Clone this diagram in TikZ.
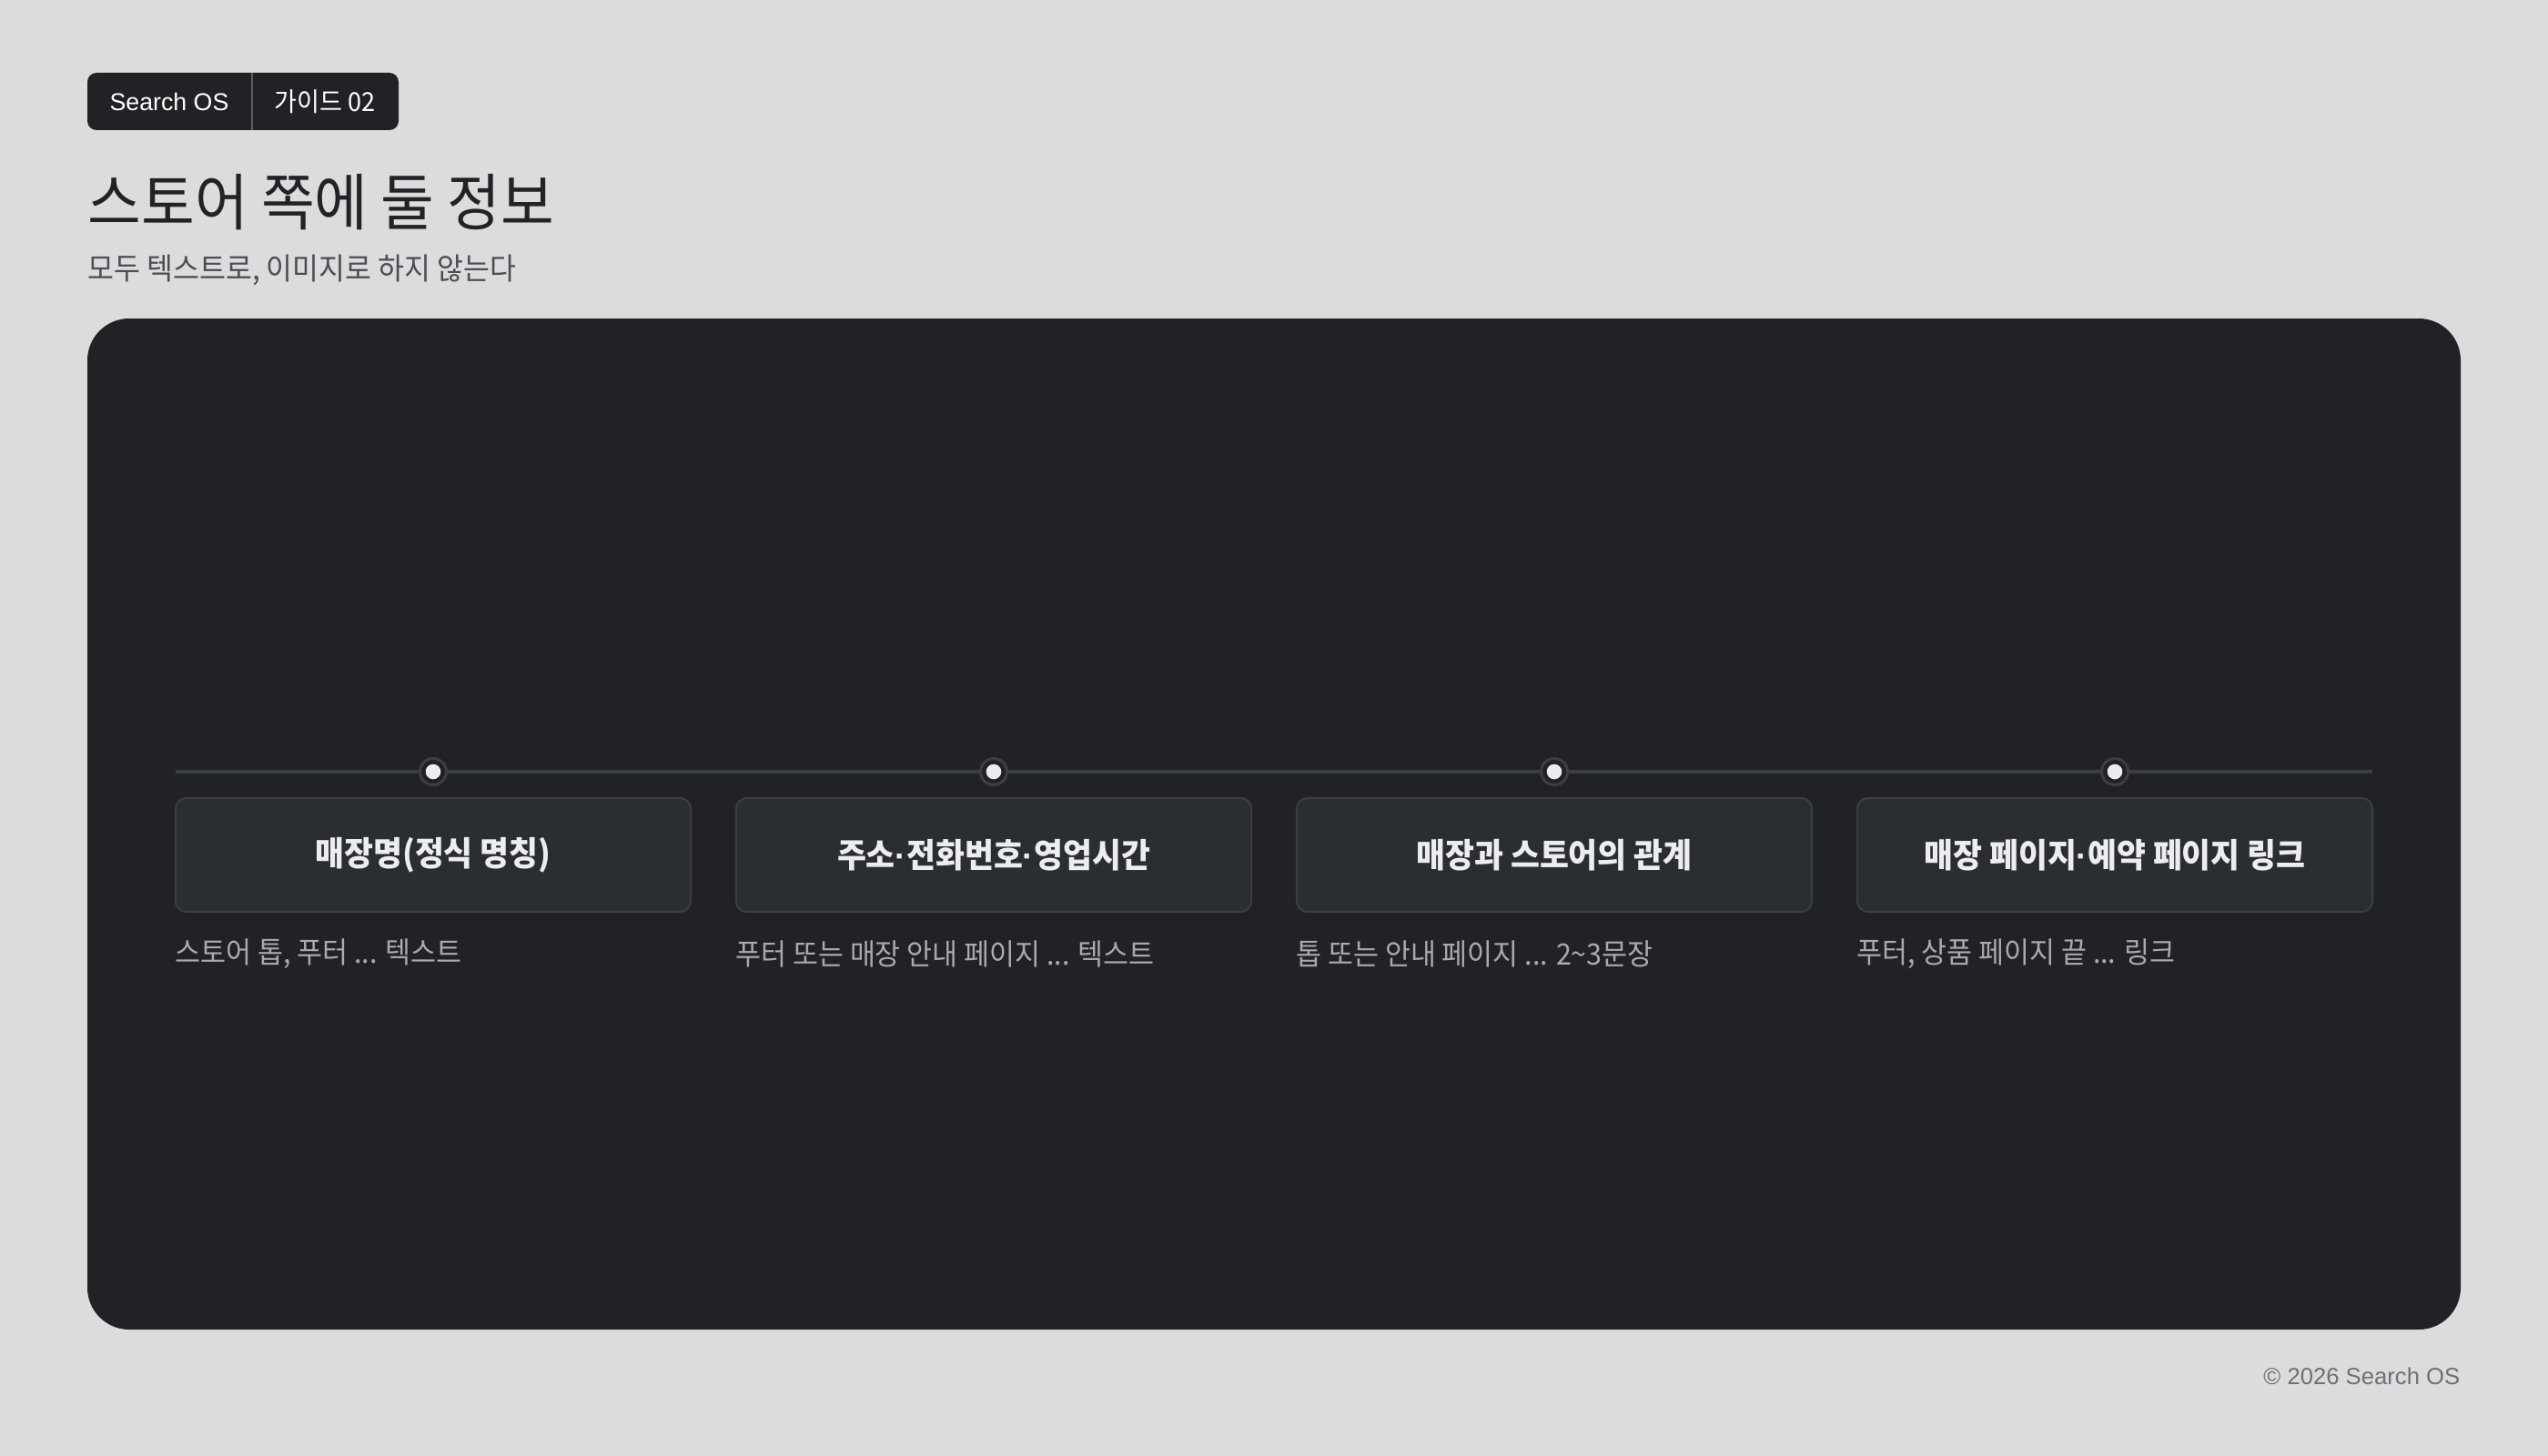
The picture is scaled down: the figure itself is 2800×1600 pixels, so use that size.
\documentclass[tikz,border=0pt]{standalone}
\usepackage{fontspec}
\setmainfont{Liberation Sans}
\newfontfamily\kr[FakeStretch=0.94]{Noto Sans CJK KR}
\newcommand\mdot{{\rmfamily ·}}
\usetikzlibrary{positioning}

\definecolor{pagebg}{HTML}{DCDCDC}
\definecolor{panelbg}{HTML}{212226}
\definecolor{cardbg}{HTML}{2A2D32}
\definecolor{cardline}{HTML}{3A3D43}
\definecolor{railgray}{HTML}{3B3F44}
\definecolor{dotwhite}{HTML}{ECECEC}
\definecolor{cardtext}{HTML}{EDEDEF}
\definecolor{notegray}{HTML}{A7AAB0}
\definecolor{titleink}{HTML}{222327}
\definecolor{subink}{HTML}{4A4E55}
\definecolor{footink}{HTML}{6C7078}
\definecolor{badgeline}{HTML}{5A5D63}

\begin{document}
\begin{tikzpicture}[x=0.01cm, y=-0.01cm,
    cardbox/.style={draw=cardline, line width=0.6pt, fill=cardbg, rounded corners=0.12cm,
        minimum width=5.66cm, minimum height=1.25cm, inner sep=0pt, text=cardtext,
        font=\kr\bfseries\fontsize{10.5}{12}\selectfont},
    cardnote/.style={anchor=west, inner sep=0pt, text=notegray, font=\kr\fontsize{9.2}{11}\selectfont},
    stepdot/.style={circle, fill=panelbg, draw=railgray, line width=0.85pt, minimum size=0.29cm, inner sep=0pt},
    badgetext/.style={inner sep=0pt, text=white},
    rail/.style={draw=railgray, line width=1.1pt}
]
    \useasboundingbox (0,0) rectangle (2800,1600);
    \fill[pagebg] (0,0) rectangle (2800,1600);

    % badge and heading
    \fill[panelbg, rounded corners=0.1cm] (96,80) rectangle (438,143);
    \draw[badgeline, line width=0.6pt] (277,80) -- (277,143);
    \node[badgetext, font=\fontsize{7.6}{9}\selectfont] (brand) at (186,112) {Search OS};
    \node[badgetext, font=\kr\fontsize{8.2}{10}\selectfont] (guide) at (357,112) {가이드 02};
    \node[anchor=west, inner sep=0pt, text=titleink, font=\kr\fontsize{19.3}{22}\selectfont] (title) at (96,222) {스토어 쪽에 둘 정보};
    \node[anchor=west, inner sep=0pt, text=subink, font=\kr\fontsize{9.5}{11}\selectfont] (subtitle) at (96,297) {모두 텍스트로, 이미지로 하지 않는다};

    % panel
    \fill[panelbg, rounded corners=0.46cm] (96,350) rectangle (2704,1461);

    % rail with dots
    \coordinate (railL) at (193,848);
    \coordinate (railR) at (2607,848);
    \draw[rail] (railL) -- (railR);
    \node[stepdot] (d1) at (476,848) {};
    \node[stepdot] (d2) at (1092,848) {};
    \node[stepdot] (d3) at (1708,848) {};
    \node[stepdot] (d4) at (2324,848) {};
    \fill[dotwhite] (d1) circle (0.083cm);
    \fill[dotwhite] (d2) circle (0.083cm);
    \fill[dotwhite] (d3) circle (0.083cm);
    \fill[dotwhite] (d4) circle (0.083cm);

    % cards
    \node[cardbox] (c1) at (476,939.5) {매장명(정식 명칭)};
    \node[cardbox] (c2) at (1092,939.5) {주소\mdot 전화번호\mdot 영업시간};
    \node[cardbox] (c3) at (1708,939.5) {매장과 스토어의 관계};
    \node[cardbox] (c4) at (2324,939.5) {매장 페이지\mdot 예약 페이지 링크};

    \node[cardnote] (n1) at ([yshift=-0.45cm]c1.south west) {스토어 톱, 푸터 ... 텍스트};
    \node[cardnote] (n2) at ([yshift=-0.45cm]c2.south west) {푸터 또는 매장 안내 페이지 ... 텍스트};
    \node[cardnote] (n3) at ([yshift=-0.45cm]c3.south west) {톱 또는 안내 페이지 ... 2\textasciitilde3문장};
    \node[cardnote] (n4) at ([yshift=-0.45cm]c4.south west) {푸터, 상품 페이지 끝 ... 링크};

    % footer
    \node[anchor=east, inner sep=0pt, text=footink, font=\fontsize{7.3}{9}\selectfont] (foot) at (2704,1512) {© 2026 Search OS};
\end{tikzpicture}
\end{document}
